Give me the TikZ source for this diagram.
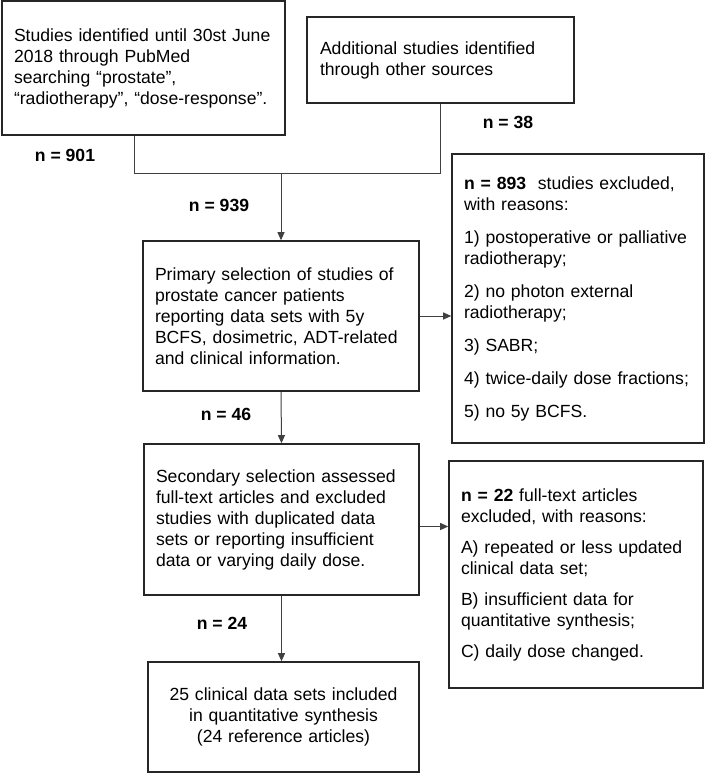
\documentclass[tikz,border=0pt]{standalone}
\usepackage{fontspec}
\setmainfont{Liberation Sans}
\usetikzlibrary{arrows.meta}

\begin{document}
\begin{tikzpicture}[x=1pt,y=-1pt,
	box/.style={draw=black!85,line width=1.6pt,rectangle,inner xsep=12pt,inner ysep=0pt,align=left,font=\fontsize{17.6}{21}\selectfont},
	count/.style={font=\fontsize{17.6}{21}\selectfont\bfseries},
	link/.style={draw=black!75,line width=1pt},
	flow/.style={link,-{Triangle[length=8pt,width=7pt]}}]
	\useasboundingbox (0,0) rectangle (705,773);
	\node[box,minimum width=283pt,minimum height=134pt,text width=259pt] (search) at (143.5,68) {Studies identified until 30st June\\2018 through PubMed\\searching “prostate”,\\“radiotherapy”, “dose-response”.};
	\node[box,minimum width=267pt,minimum height=86pt,text width=241pt] (other) at (440.5,60) {Additional studies identified\\through other sources};
	\node[box,minimum width=276pt,minimum height=150pt,text width=252pt] (primary) at (281,316) {Primary selection of studies of\\prostate cancer patients\\reporting data sets with 5y\\BCFS, dosimetric, ADT-related\\and clinical information.};
	\node[box,minimum width=250pt,minimum height=289pt,text width=228pt] (excl1) at (578,298.5) {\textbf{n = 893}\ \ studies excluded,\\with reasons:\\[12pt]1) postoperative or palliative\\radiotherapy;\\[12pt]2) no photon external\\radiotherapy;\\[12pt]3) SABR;\\[12pt]4) twice-daily dose fractions;\\[12pt]5) no 5y BCFS.};
	\node[box,minimum width=275pt,minimum height=151pt,text width=251pt] (secondary) at (281.5,519.5) {Secondary selection assessed\\full-text articles and excluded\\studies with duplicated data\\sets or reporting insufficient\\data or varying daily dose.};
	\node[box,minimum width=254pt,minimum height=227pt,text width=230pt] (excl2) at (576,574.5) {\textbf{n = 22} full-text articles\\excluded, with reasons:\\[10pt]A) repeated or less updated\\clinical data set;\\[10pt]B) insufficient data for\\quantitative synthesis;\\[10pt]C) daily dose changed.};
	\node[box,align=center,minimum width=271pt,minimum height=110pt,text width=247pt] (included) at (283.5,717) {25 clinical data sets included\\in quantitative synthesis\\(24 reference articles)};
	\node[count] (n901) at (65,155) {n = 901};
	\node[count] (n38) at (508,122) {n = 38};
	\node[count] (n939) at (219,205) {n = 939};
	\node[count] (n46) at (226,414) {n = 46};
	\node[count] (n24) at (222,623) {n = 24};
	\coordinate (elbow) at (134,173);
	\coordinate (join) at (elbow -| primary.north);
	\draw[link] (search.south -| elbow) -- (elbow) -- (elbow -| other.south) -- (other.south);
	\draw[flow] (join) -- (primary.north);
	\draw[flow] (primary.south) -- (secondary.north);
	\draw[flow] (secondary.south) -- (secondary.south |- included.north);
	\draw[flow] (primary.east) -- (primary.east -| excl1.west);
	\draw[flow] ([yshift=-7pt]secondary.east) -- ([yshift=-7pt]secondary.east -| excl2.west);
\end{tikzpicture}
\end{document}
